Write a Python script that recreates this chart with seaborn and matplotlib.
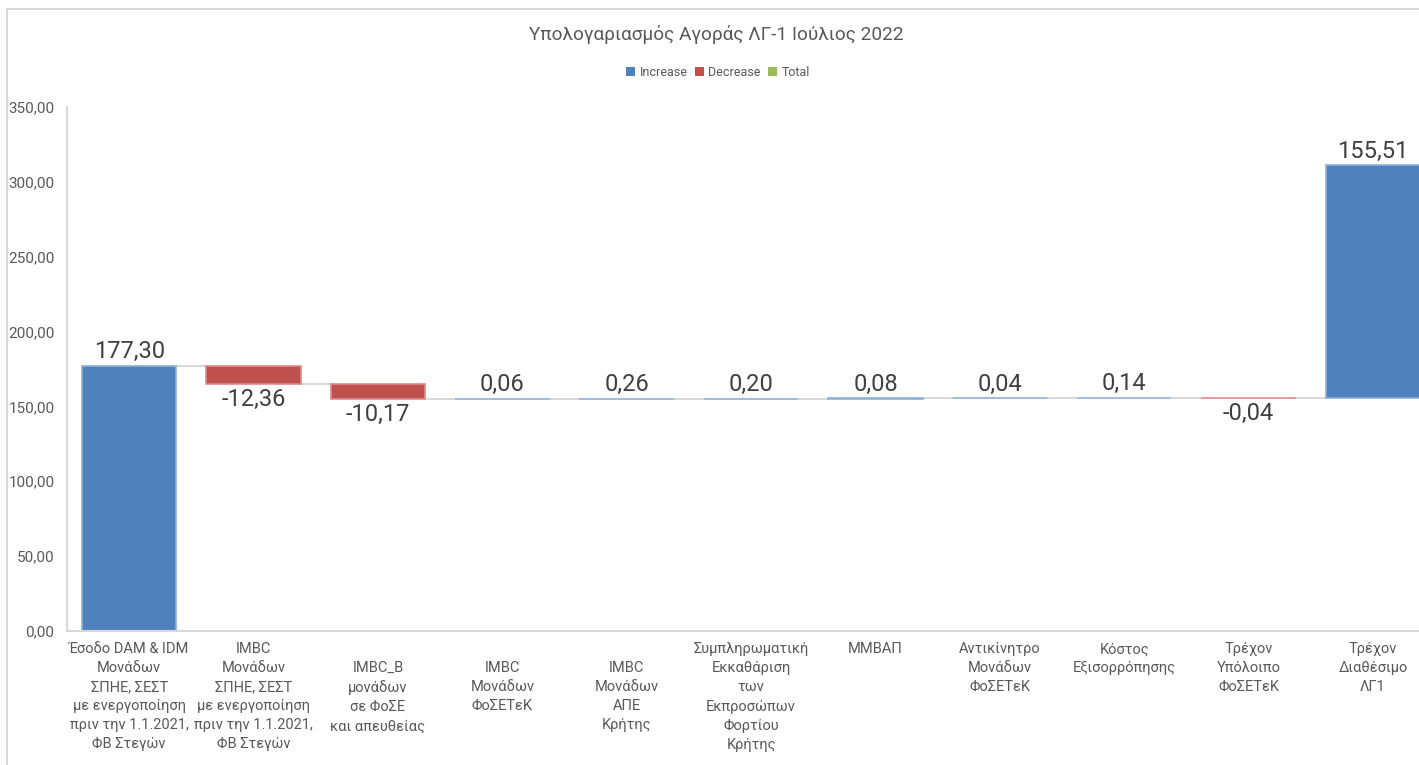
import numpy as np
import pandas as pd
import matplotlib
matplotlib.use("Agg")
import matplotlib.pyplot as plt
import seaborn as sns
from matplotlib.patches import Patch, Rectangle
from matplotlib.ticker import FuncFormatter

# δεδομένα (ανάγνωση από το διάγραμμα)
categories = [
    "Έσοδο DAM & IDM\nΜονάδων\nΣΠΗΕ, ΣΕΣΤ\nμε ενεργοποίηση\nπριν την 1.1.2021,\nΦΒ Στεγών",
    "IMBC\nΜονάδων\nΣΠΗΕ, ΣΕΣΤ\nμε ενεργοποίηση\nπριν την 1.1.2021,\nΦΒ Στεγών",
    "\nIMBC_B\nμονάδων\nσε ΦοΣΕ\nκαι απευθείας",
    "\nIMBC\nΜονάδων\nΦοΣΕΤεΚ",
    "\nIMBC\nΜονάδων\nΑΠΕ\nΚρήτης",
    "Συμπληρωματική\nΕκκαθάριση\nτων\nΕκπροσώπων\nΦορτίου\nΚρήτης",
    "ΜΜΒΑΠ",
    "Αντικίνητρο\nΜονάδων\nΦοΣΕΤεΚ",
    "Κόστος\nΕξισορρόπησης",
    "Τρέχον\nΥπόλοιπο\nΦοΣΕΤεΚ",
    "Τρέχον\nΔιαθέσιμο\nΛΓ1",
]
values = [177.30, -12.36, -10.17, 0.06, 0.26, 0.20, 0.08, 0.04, 0.14, -0.04, 155.51]
title = "Υπολογαριασμός Αγοράς ΛΓ-1 Ιούλιος 2022"
legend_labels = ["Increase", "Decrease", "Total"]

colors = {"Increase": "#4F81BD", "Decrease": "#C0504D", "Total": "#9BBB59"}
edges = {"Increase": "#8DB0DC", "Decrease": "#E08A88"}
text_col = "#595959"
line_col = "#D9D9D9"

# υπολογισμός βάσεων του waterfall
bases, tops = [], []
cum = 0.0
for v in values:
    bases.append(min(cum, cum + v))
    cum += v
    tops.append(cum)

df = pd.DataFrame({
    "cat": [str(i) for i in range(len(values))],
    "height": np.abs(values),
    "kind": ["Increase" if v >= 0 else "Decrease" for v in values],
})

sns.set_theme(style="white")
plt.rcParams["font.family"] = ["Roboto", "DejaVu Sans"]

fig = plt.figure(figsize=(14.19, 7.65), dpi=100)
ax = fig.add_axes([67 / 1419, 134 / 765, 1 - 67 / 1419, 524 / 765])

sns.barplot(data=df, x="cat", y="height", hue="kind", palette=colors,
            dodge=False, width=0.76, saturation=1, legend=False, ax=ax)

# μετακίνηση των ράβδων στις βάσεις τους
for p in ax.patches:
    i = int(round(p.get_x() + p.get_width() / 2))
    kind = df["kind"][i]
    p.set_y(bases[i])
    p.set_height(abs(values[i]))
    p.set_edgecolor(edges[kind])
    p.set_linewidth(1.2)

# γραμμές σύνδεσης
half = 0.38
for i in range(len(values) - 1):
    ax.plot([i + half, i + 1 - half], [tops[i], tops[i]], color=line_col,
            lw=1.5, zorder=0.5)

# ετικέτες τιμών
for i, v in enumerate(values):
    lbl = f"{v:.2f}".replace(".", ",")
    if v >= 0:
        ax.annotate(lbl, (i, bases[i] + abs(v)), xytext=(0, 2), textcoords="offset points",
                    ha="center", va="bottom", fontsize=17, color="#404040")
    else:
        ax.annotate(lbl, (i, bases[i]), xytext=(0, -3), textcoords="offset points",
                    ha="center", va="top", fontsize=17, color="#404040")

ax.set_ylim(0, 350)
ax.set_xlim(-0.5, 10.37)
ax.set_yticks(np.arange(0, 351, 50))
ax.yaxis.set_major_formatter(FuncFormatter(lambda y, _: f"{y:.2f}".replace(".", ",")))
ax.set_xticks(range(len(categories)))
ax.set_xticklabels(categories, linespacing=1.45)
ax.tick_params(axis="x", length=0, pad=8, labelsize=10.5, colors=text_col)
ax.tick_params(axis="y", length=0, pad=9, labelsize=11, colors=text_col)
ax.set_xlabel("")
ax.set_ylabel("")

for s in ["top", "right"]:
    ax.spines[s].set_visible(False)
for s in ["left", "bottom"]:
    ax.spines[s].set_color(line_col)
    ax.spines[s].set_linewidth(1.5)

fig.text(0.505, 1 - 35 / 765, title, ha="center", va="center", fontsize=13.7, color=text_col)

handles = [Patch(facecolor=colors[k], edgecolor="none") for k in legend_labels]
fig.legend(handles, legend_labels, loc="center", bbox_to_anchor=(0.506, 1 - 72 / 765),
           ncol=3, frameon=False, fontsize=9, handlelength=0.7, handleheight=0.7,
           handletextpad=0.35, columnspacing=0.6, labelcolor=text_col)

# πλαίσιο διαγράμματος
fig.patches.append(Rectangle((7 / 1419, -0.1), 1.2, 1.1 - 9 / 765, transform=fig.transFigure,
                             fill=False, edgecolor=line_col, lw=1.5, zorder=0))

fig.savefig("out.png", dpi=100, facecolor="white")
